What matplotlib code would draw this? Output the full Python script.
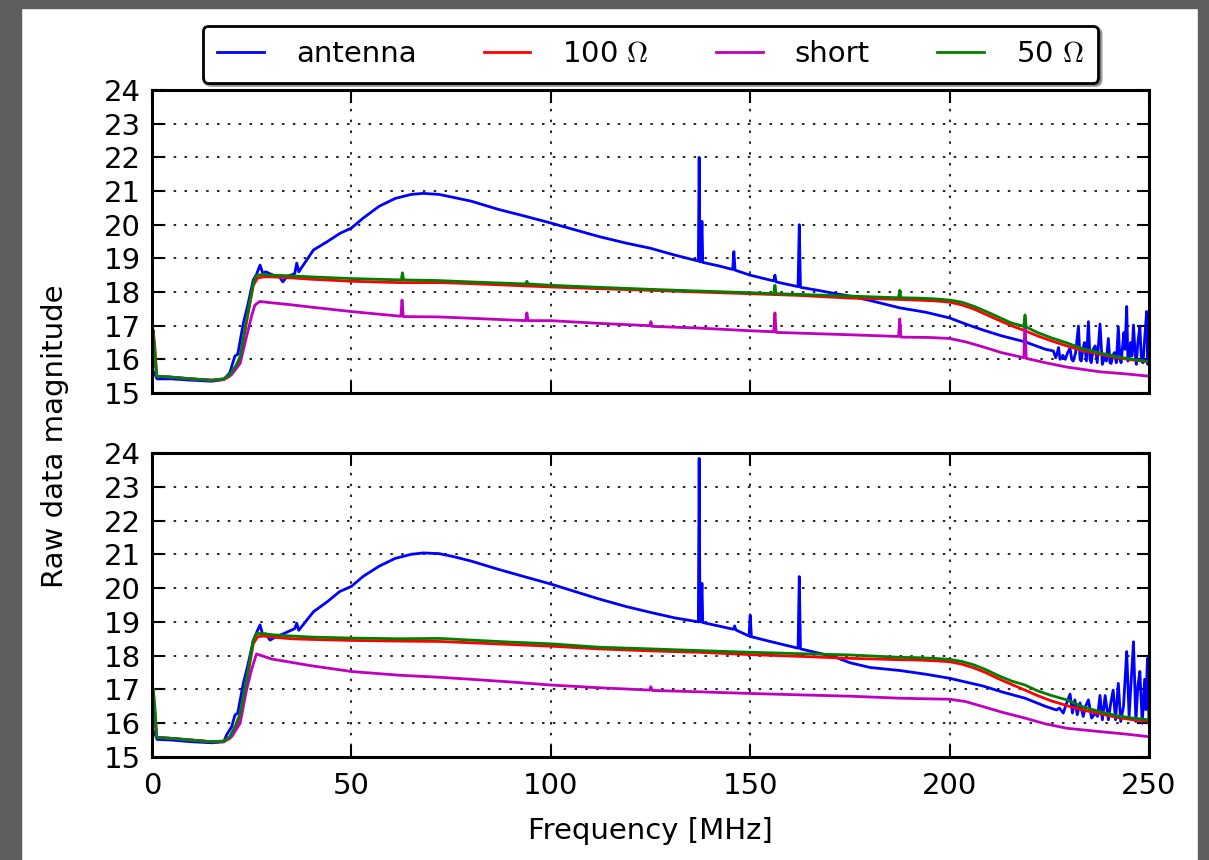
#! /usr/bin/env python3

import matplotlib
matplotlib.use("Agg")
import matplotlib.pyplot as plt
from matplotlib.patches import Rectangle

plt.rcParams["font.family"] = ["DejaVu Sans"]
plt.rcParams["mathtext.fontset"] = "cm"

# ---- top panel ----
top_ant_f = [0, 0.5, 1.3, 5, 10, 15, 18, 19.5, 20.8, 21.5, 22.9, 24, 25.4, 26.3, 27.1, 27.8,
             28.5, 30.4, 32.0, 32.8, 33.8, 35.8, 36.3, 36.8, 40.5, 44, 47.1, 50, 53, 57, 61,
             65, 68, 72, 76, 80, 87, 93, 100, 106, 112, 119, 125, 131, 137.0, 137.2, 137.4,
             137.6, 137.9, 138.1, 142, 145.6, 145.9, 146.2, 150, 155.9, 156.2, 156.5, 162.0,
             162.3, 162.6, 167, 171, 175, 180, 187.5, 194, 200, 204, 208.4, 213, 218.9, 224,
             226.0, 226.6, 227.0, 227.3, 227.7, 228.4, 229.0, 229.6, 230.2, 230.6, 231.0,
             231.6, 232.3, 232.7, 233.0, 233.4, 233.8, 234.3, 234.8, 235.2, 235.5, 236.0,
             236.5, 237.0, 237.7, 238.3, 238.9, 239.3, 239.8, 240.2, 240.5, 240.9, 241.3,
             241.8, 242.3, 242.7, 243.0, 243.4, 243.7, 244.0, 244.4, 244.7, 245.0, 245.4,
             245.7, 246.1, 246.5, 246.8, 247.2, 247.7, 248.1, 248.5, 248.9, 249.4, 249.7, 250]
top_ant_v = [15.7, 15.6, 15.42, 15.42, 15.38, 15.35, 15.4, 15.6, 16.1, 16.15, 17.07, 17.6,
             18.36, 18.55, 18.8, 18.55, 18.6, 18.5, 18.45, 18.3, 18.45, 18.55, 18.86, 18.6,
             19.25, 19.5, 19.74, 19.9, 20.2, 20.55, 20.78, 20.9, 20.93, 20.9, 20.8, 20.7,
             20.45, 20.27, 20.05, 19.85, 19.65, 19.45, 19.3, 19.1, 18.92, 22.0, 18.9, 18.9,
             20.1, 18.88, 18.78, 18.67, 19.2, 18.65, 18.5, 18.33, 18.5, 18.3, 18.16, 20.0,
             18.14, 18.05, 17.96, 17.88, 17.75, 17.53, 17.4, 17.23, 17.05, 16.87, 16.7, 16.52,
             16.3, 16.25, 16.05, 16.2, 16.35, 16.0, 16.12, 16.0, 16.2, 16.33, 16.0, 15.95,
             16.2, 16.99, 16.0, 15.95, 16.3, 16.5, 15.95, 17.12, 16.0, 15.9, 16.3, 16.4,
             15.9, 17.05, 15.85, 16.1, 15.95, 16.62, 15.9, 15.88, 16.1, 16.2, 15.9, 16.97,
             16.0, 15.9, 16.4, 16.8, 16.3, 17.57, 15.95, 16.0, 16.5, 16.1, 17.02, 16.2, 15.85,
             16.5, 16.97, 15.95, 15.9, 16.6, 17.42, 15.85, 17.4]

top_100_f = [0, 0.3, 0.7, 1.2, 5, 10, 15, 18, 19.5, 21, 22.1, 23.7, 25.4, 26.5, 28, 30, 35,
             40, 50, 62, 72, 80, 90, 100, 112, 125, 137, 150, 162, 175, 187.5, 192, 196, 200,
             203, 206, 209, 212, 215.5, 218.9, 222, 225.5, 229.4, 233, 237.7, 242, 246, 250]
top_100_v = [16.5, 16.85, 16.4, 15.5, 15.47, 15.42, 15.38, 15.4, 15.5, 15.75, 16.05, 17.1,
             18.2, 18.42, 18.45, 18.45, 18.42, 18.38, 18.32, 18.28, 18.28, 18.25, 18.2, 18.15,
             18.1, 18.05, 18.0, 17.95, 17.9, 17.82, 17.78, 17.76, 17.74, 17.7, 17.62, 17.5,
             17.34, 17.18, 17.0, 16.85, 16.7, 16.55, 16.4, 16.27, 16.15, 16.05, 15.98, 15.93]

top_short_f = [0, 0.3, 0.7, 1.2, 5, 10, 15, 18, 20, 22.1, 23.7, 25.0, 25.8, 27, 30, 35, 40,
               50, 62.4, 62.7, 63.0, 72, 80, 93.7, 94.0, 94.3, 100, 112, 124.8, 125.1, 125.4,
               137, 150, 155.9, 156.2, 156.5, 162, 175, 187.2, 187.5, 187.8, 195, 200, 204,
               208.4, 213, 218.6, 218.9, 219.2, 224, 229.4, 237.7, 244, 250]
top_short_v = [16.3, 16.6, 16.0, 15.5, 15.47, 15.42, 15.38, 15.42, 15.55, 15.88, 16.67, 17.3,
               17.61, 17.72, 17.68, 17.62, 17.55, 17.42, 17.28, 17.76, 17.27, 17.26, 17.22,
               17.15, 17.38, 17.15, 17.15, 17.07, 17.0, 17.12, 16.98, 16.93, 16.85, 16.82,
               17.38, 16.8, 16.78, 16.73, 16.68, 17.2, 16.66, 16.65, 16.62, 16.52, 16.37, 16.2,
               16.05, 17.22, 16.03, 15.9, 15.77, 15.63, 15.57, 15.5]

top_50_f = [0, 0.3, 0.7, 1.2, 5, 10, 15, 18, 19.5, 21, 22.1, 23.7, 25.4, 26.2, 28, 30, 35,
            40, 50, 62.5, 62.8, 63.1, 72, 80, 93.7, 94.0, 94.3, 100, 112, 125, 137, 150,
            155.9, 156.2, 156.5, 162, 175, 187.2, 187.5, 187.8, 192, 196, 200, 203, 206,
            209, 212, 215.5, 218.6, 218.9, 219.2, 222, 225.5, 229.4, 233, 237.7, 242, 246, 250]
top_50_v = [16.6, 16.87, 16.2, 15.5, 15.47, 15.42, 15.38, 15.42, 15.55, 15.8, 16.08, 17.17,
            18.26, 18.5, 18.52, 18.5, 18.48, 18.45, 18.4, 18.36, 18.57, 18.36, 18.34, 18.3,
            18.24, 18.32, 18.24, 18.2, 18.14, 18.08, 18.03, 17.98, 17.95, 18.2, 17.95, 17.93,
            17.88, 17.83, 18.05, 17.83, 17.82, 17.8, 17.76, 17.7, 17.58, 17.43, 17.27, 17.08,
            16.98, 17.32, 16.96, 16.8, 16.64, 16.49, 16.33, 16.19, 16.08, 16.0, 15.93]

# ---- bottom panel ----
bot_ant_f = [0, 0.5, 1.3, 5, 10, 15, 18, 18.7, 20, 20.8, 21.5, 22.9, 24, 25.4, 26.3, 27.1,
             27.8, 28.5, 29.6, 31, 33, 35.8, 36.3, 36.8, 40.5, 44, 47.1, 50, 53, 57, 61, 65,
             68, 72, 76, 80, 87, 93, 100, 106, 112, 119, 125, 131, 137.0, 137.2, 137.4, 137.6,
             137.9, 138.1, 142, 145.8, 146.1, 146.4, 149.7, 150.0, 150.3, 155, 162.0, 162.3,
             162.6, 167, 171, 175, 180, 187.5, 194, 200, 204, 208.4, 213, 218.9, 224, 226.8,
             227.5, 228.5, 229.2, 230.2, 230.8, 231.4, 232.0, 232.7, 233.5, 234.1, 234.8,
             235.6, 236.5, 237.1, 237.7, 238.3, 239.0, 239.8, 240.4, 241.0, 241.6, 242.3,
             242.9, 243.6, 244.0, 244.4, 245.0, 245.5, 245.8, 246.1, 246.7, 247.2, 247.7,
             248.3, 248.9, 249.2, 249.6, 250]
bot_ant_v = [15.8, 15.75, 15.52, 15.5, 15.45, 15.42, 15.45, 15.65, 15.9, 16.24, 16.3, 17.18,
             17.7, 18.45, 18.7, 18.91, 18.6, 18.65, 18.46, 18.55, 18.65, 18.8, 18.96, 18.75,
             19.3, 19.6, 19.9, 20.05, 20.35, 20.65, 20.88, 21.0, 21.04, 21.02, 20.92, 20.8,
             20.55, 20.35, 20.12, 19.9, 19.68, 19.45, 19.28, 19.12, 19.0, 23.84, 19.0, 19.0,
             20.14, 18.98, 18.88, 18.78, 18.88, 18.76, 18.58, 19.2, 18.56, 18.42, 18.22, 20.34,
             18.2, 18.08, 17.97, 17.79, 17.65, 17.56, 17.45, 17.33, 17.22, 17.1, 16.93, 16.74,
             16.5, 16.39, 16.45, 16.3, 16.55, 16.86, 16.3, 16.69, 16.25, 16.6, 16.2, 16.5,
             16.69, 16.15, 16.3, 16.2, 16.82, 16.1, 16.82, 16.1, 16.6, 16.98, 16.1, 17.18,
             16.05, 16.5, 17.3, 18.12, 16.2, 17.2, 17.8, 18.41, 16.05, 17.1, 17.53, 16.0,
             17.3, 16.4, 17.92, 16.0]

bot_100_f = [0, 0.3, 0.7, 1.2, 5, 10, 15, 18, 19.5, 21, 22.1, 23.7, 25.4, 26.5, 28, 30, 35,
             40, 50, 62, 72, 80, 90, 100, 112, 125, 137, 150, 162, 175, 187.5, 192, 196, 200,
             203, 206, 209, 212, 215.5, 218.9, 222, 225.5, 229.4, 233, 237.7, 242, 246, 250]
bot_100_v = [16.6, 17.0, 16.4, 15.58, 15.55, 15.5, 15.45, 15.45, 15.55, 15.85, 16.25, 17.2,
             18.35, 18.56, 18.58, 18.55, 18.5, 18.48, 18.45, 18.43, 18.42, 18.38, 18.33, 18.28,
             18.2, 18.14, 18.1, 18.03, 17.98, 17.92, 17.88, 17.87, 17.85, 17.82, 17.75, 17.64,
             17.5, 17.33, 17.15, 16.98, 16.82, 16.66, 16.52, 16.4, 16.28, 16.17, 16.1, 16.05]

bot_short_f = [0, 0.3, 0.7, 1.2, 5, 10, 15, 18, 20, 22.1, 23.7, 25.0, 26.2, 27.5, 30, 35, 40,
               50, 62, 72, 80, 90, 100, 112, 124.8, 125.1, 125.4, 137, 150, 162, 175, 187.5,
               195, 200, 204, 208.4, 213, 218.9, 224, 229.4, 237.7, 244, 250]
bot_short_v = [16.4, 16.7, 16.1, 15.58, 15.55, 15.5, 15.45, 15.47, 15.6, 16.0, 16.98, 17.6,
               18.05, 18.0, 17.9, 17.8, 17.7, 17.53, 17.42, 17.36, 17.3, 17.22, 17.13, 17.05,
               16.98, 17.08, 16.97, 16.93, 16.88, 16.84, 16.8, 16.74, 16.72, 16.71, 16.64,
               16.49, 16.33, 16.15, 15.98, 15.85, 15.75, 15.68, 15.6]

bot_50_f = [0, 0.3, 0.7, 1.2, 5, 10, 15, 18, 19.5, 21, 22.1, 23.7, 25.4, 26.2, 28, 30, 35,
            40, 50, 62, 72, 80, 90, 100, 112, 125, 137, 150, 162, 175, 187.5, 192, 196, 200,
            203, 206, 209, 212, 215.5, 218.9, 222, 225.5, 229.4, 233, 237.7, 242, 246, 250]
bot_50_v = [16.7, 17.03, 16.5, 15.58, 15.55, 15.5, 15.45, 15.47, 15.6, 15.95, 16.29, 17.28,
            18.45, 18.66, 18.65, 18.62, 18.58, 18.55, 18.52, 18.5, 18.51, 18.46, 18.4, 18.35,
            18.25, 18.2, 18.15, 18.1, 18.06, 18.02, 17.95, 17.94, 17.92, 17.89, 17.83, 17.73,
            17.59, 17.42, 17.25, 17.13, 16.96, 16.82, 16.69, 16.5, 16.34, 16.22, 16.15, 16.1]

labels = ["antenna", r"100 $\Omega$", "short", r"50 $\Omega$"]
colors = ["b", "r", "m", "g"]
y_ticks = list(range(15, 25))
x_ticks = [0, 50, 100, 150, 200, 250]

FS = 21


def style_axis(ax):
    ax.set_xlim(0, 250)
    ax.set_ylim(15, 24)
    ax.set_yticks(y_ticks)
    ax.set_xticks(x_ticks)
    ax.grid(True, color="k", linestyle=(0, (1.5, 5)), linewidth=1.2)
    ax.tick_params(direction="in", top=True, right=True, length=9, width=1.5,
                   labelsize=FS, pad=8)
    ax.tick_params(axis="x", pad=11)
    for sp in ax.spines.values():
        sp.set_linewidth(2.2)


def main():
    fig = plt.figure(figsize=(12.09, 8.6), dpi=100, facecolor="white")
    ax1 = fig.add_axes([0.1257, 0.5430, 0.8247, 0.3523])
    ax2 = fig.add_axes([0.1257, 0.1198, 0.8247, 0.3535])

    top = [(top_ant_f, top_ant_v), (top_100_f, top_100_v),
           (top_short_f, top_short_v), (top_50_f, top_50_v)]
    bot = [(bot_ant_f, bot_ant_v), (bot_100_f, bot_100_v),
           (bot_short_f, bot_short_v), (bot_50_f, bot_50_v)]

    for ax, series in ((ax1, top), (ax2, bot)):
        for (f, v), lab, c in zip(series, labels, colors):
            ax.plot(f, v, color=c, lw=2.0, label=lab)
        style_axis(ax)

    ax1.tick_params(labelbottom=False)
    ax2.set_xlabel("Frequency [MHz]", fontsize=FS, labelpad=12)

    leg = ax1.legend(loc="lower center", bbox_to_anchor=(0.5, 1.0), ncol=4,
                     fontsize=FS, fancybox=True, shadow=True, framealpha=1,
                     handlelength=1.6, handletextpad=1.1, columnspacing=2.3,
                     borderaxespad=0.25, borderpad=0.5)
    leg.get_frame().set_edgecolor("k")
    leg.get_frame().set_linewidth(2.0)

    fig.text(55 / 1209, 1 - 436 / 860, "Raw data magnitude", rotation=90,
             ha="center", va="center", fontsize=FS)

    # dark screenshot frame
    gray = "#5e5e5e"
    fig.patches.append(Rectangle((0, 0), 21 / 1209, 1, transform=fig.transFigure,
                                 color=gray, zorder=0))
    fig.patches.append(Rectangle((0, 1 - 8 / 860), 1, 8 / 860, transform=fig.transFigure,
                                 color=gray, zorder=0))
    fig.patches.append(Rectangle((1198 / 1209, 0), 11 / 1209, 1, transform=fig.transFigure,
                                 color=gray, zorder=0))

    fig.savefig("out.png", dpi=100, facecolor="white")


if __name__ == "__main__":
    main()
